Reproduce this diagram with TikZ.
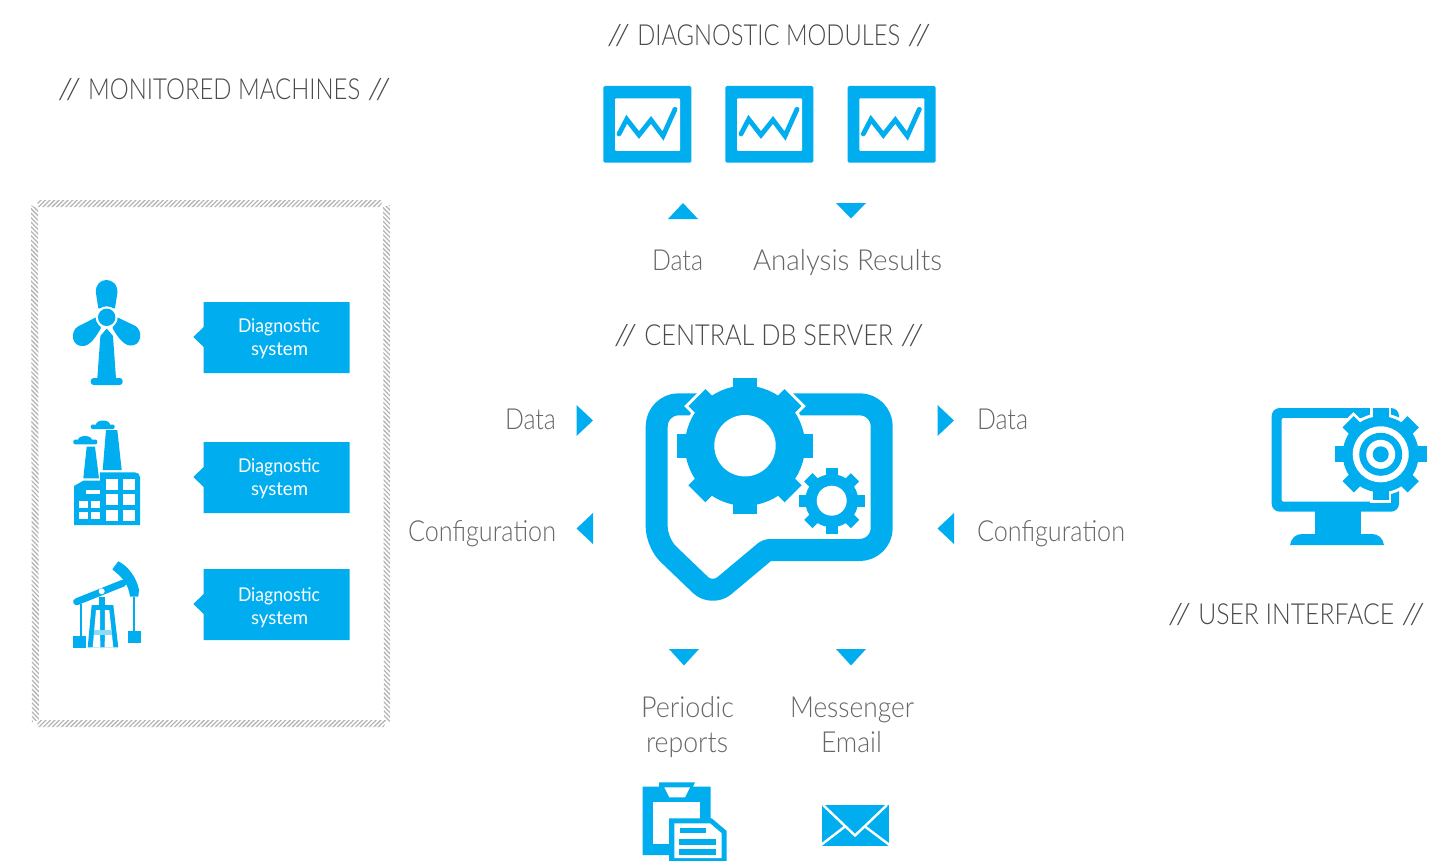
\documentclass[tikz,border=0pt]{standalone}
\usepackage{fontspec}
\usepackage{graphicx}
\usetikzlibrary{patterns.meta}
\setmainfont{Lato}[UprightFont=* Light,BoldFont=* Regular]
\definecolor{iconblue}{HTML}{00AEEF}
\definecolor{headgray}{HTML}{4A4A4A}
\definecolor{labgray}{HTML}{666666}
\definecolor{hatchgray}{HTML}{B4B4B4}
\newcommand\fitw[2]{\resizebox{#1pt}{\height}{#2}}
\newcommand\titl[2]{\hspace{-1.5pt}\fitw{23.5}{//}\hspace{7pt}\fitw{#1}{#2}\hspace{7pt}\fitw{23.5}{//}\hspace{-1.5pt}}
\newcommand\geartooth[6]{% cx cy rbody rtip toothw colour
  \fill[#6] (#1,#2) circle (#3);
  \foreach \ang in {0,45,...,315}{
    \fill[#6,shift={(#1,#2)},rotate=\ang] (-#5/2,0) -- (#5/2,0) -- (#5/2,#4) -- (-#5/2,#4) -- cycle;
  }
}
\newcommand\moduleicon[1]{%
  \begin{scope}[shift={(#1,0)}]
    \fill[iconblue,rounded corners=1.5pt] (603.3,86) rectangle (691.3,162.7);
    \fill[white,rounded corners=1pt] (615,98.3) rectangle (680,151);
    \draw[iconblue,line width=4.8pt,line cap=round,line join=miter]
      (619,134) -- (626.7,119.3) -- (639,135) -- (651,120) -- (663,136) -- (675,109.3);
  \end{scope}
}
\newcommand\diagbox[4]{%
  \fill[iconblue] (203.7,#1) -- (349.7,#1) -- (349.7,#1+71) -- (203.7,#1+71) -- (203.7,#1+45) -- (193.3,#1+35) -- (203.7,#1+25) -- cycle;
  \node[diagtxt] (#2) at (279,#1+30.5+#4) {\fitw{82}{Diagnostic}};
  \node[diagtxt] (#3) at (279.5,#1+53.5+#4) {\fitw{57}{system}};
}
\tikzset{
  head/.style={anchor=base,text=headgray,font=\fontsize{29}{29}\selectfont,inner sep=0pt},
  lab/.style={anchor=base,text=labgray,font=\fontsize{29}{29}\selectfont,inner sep=0pt},
  diagtxt/.style={anchor=base,text=white,font=\fontsize{19}{19}\selectfont\bfseries,inner sep=0pt},
  band/.style={pattern={Lines[angle=45,distance=3.2pt,line width=1.3pt]},pattern color=hatchgray},
  bandb/.style={pattern={Lines[angle=-45,distance=3.2pt,line width=1.3pt]},pattern color=hatchgray},
}
\begin{document}
\begin{tikzpicture}[x=1pt,y=-1pt]
\useasboundingbox (0,0) rectangle (1455,861);
% titles
\node[head] (tmach) at (225,100) {\titl{272}{MONITORED MACHINES}};
\node[head] (tmod) at (769.5,46) {\titl{263}{DIAGNOSTIC MODULES}};
\node[head] (tdb) at (769.5,345) {\titl{249}{CENTRAL DB SERVER}};
\node[head] (tui) at (1297,624) {\titl{196}{USER INTERFACE}};
% labels
\node[lab] (ldata1) at (677.5,270.5) {\fitw{51}{Data}};
\node[lab] (lres) at (847.5,270.5) {\fitw{189}{Analysis Results}};
\node[lab] (ldata2) at (530.5,429) {\fitw{51}{Data}};
\node[lab] (lconf1) at (482,541) {\fitw{148}{Configuration}};
\node[lab] (ldata3) at (1002.5,429) {\fitw{51}{Data}};
\node[lab] (lconf2) at (1051,541) {\fitw{148}{Configuration}};
\node[lab] (lper) at (687.5,717.5) {\fitw{93}{Periodic}};
\node[lab] (lrep) at (687,752) {\fitw{82}{reports}};
\node[lab] (lmes) at (852,717.5) {\fitw{124}{Messenger}};
\node[lab] (lmail) at (851.5,752) {\fitw{61}{Email}};
% module icons
\moduleicon{0}\moduleicon{122}\moduleicon{244.3}
% triangles
\fill[iconblue] (668,219) -- (683,203) -- (698,219) -- cycle;
\fill[iconblue] (836,203) -- (866,203) -- (851,218.5) -- cycle;
\fill[iconblue] (669,649) -- (699,649) -- (684,665.5) -- cycle;
\fill[iconblue] (836,649) -- (866,649) -- (851,665.5) -- cycle;
\fill[iconblue] (576.5,405) -- (593,420.5) -- (576.5,436) -- cycle;
\fill[iconblue] (593,513) -- (576.5,528.5) -- (593,544) -- cycle;
\fill[iconblue] (937.5,405) -- (954,420.5) -- (937.5,436) -- cycle;
\fill[iconblue] (954,513) -- (937.5,528.5) -- (954,544) -- cycle;
% hatched frame
\fill[band] (37,200) -- (383,200) -- (380,207) -- (38,207) -- cycle;
\fill[band] (38,720) -- (386,720) -- (384,727) -- (37,727) -- cycle;
\fill[bandb] (31,205) -- (38,209) -- (39,720) -- (32,722) -- cycle;
\fill[bandb] (383,207) -- (390,205) -- (390,722) -- (384,717) -- cycle;
% diagnostic boxes
\diagbox{302}{d1a}{d1b}{0}
\diagbox{442}{d2a}{d2b}{0}
\diagbox{569}{d3a}{d3b}{1.5}
% wind turbine
\fill[iconblue] (98.3,308.3) -- (96,293.3) .. controls (95,284) and (101,280) .. (106.5,280) .. controls (112,280) and (118,284) .. (117.3,293.3) -- (115,308.3) -- cycle;
\fill[iconblue] (96,317.3) -- (78,326.5) .. controls (70,331) and (71,347) .. (83.5,346) .. controls (90,345.5) and (96,337) .. (101,328) -- cycle;
\fill[iconblue] (117.3,317.3) -- (135.5,326) .. controls (143,330.5) and (142,346.5) .. (130,345.5) .. controls (123.5,345) and (117.5,337) .. (112.5,328) -- cycle;
\fill[iconblue] (106.7,328.5) -- (113,336) -- (116,378.5) -- (97.3,378.5) -- (100.4,336) -- cycle;
\fill[iconblue,rounded corners=3pt] (90.7,378) rectangle (122.7,385);
\fill[white] (106.7,317.3) circle (11);
\fill[iconblue] (106.7,317.3) circle (8.7);
% factory
\fill[iconblue] (106,430) -- (117.3,430) -- (121.7,470) -- (102.7,470) -- cycle;
\fill[iconblue] (86.7,446.7) -- (95,446.7) -- (99,478.3) -- (83.3,478.3) -- cycle;
\fill[iconblue,rounded corners=2pt] (90.7,424.5) rectangle (114.7,429);
\fill[iconblue] (103,424.5) ellipse (7 and 4);
\fill[iconblue,rounded corners=2pt] (73.3,439.5) rectangle (97.3,444.3);
\fill[iconblue] (85,440) ellipse (7 and 4);
\fill[iconblue] (74,525) -- (74,486) -- (83.3,480.7) -- (100,480.7) -- (100,472.3) -- (135,472.3) .. controls (138,472.3) and (140,474.5) .. (140,477.3) -- (140,525) -- cycle;
\foreach \wx in {106,123.3}{
  \foreach \wy in {479.3,494,510}{
    \fill[white] (\wx,\wy) rectangle ++(11.7,10.7);
  }
}
\foreach \wx in {79.3,91.3}{
  \foreach \wy in {500.7,511.7}{
    \fill[white] (\wx,\wy) rectangle ++(9,7.6);
  }
}
\fill[white] (85.7,489.5) rectangle (100,494);
% pump jack
\draw[iconblue,line width=7pt,line cap=round] (76.7,601.7) -- (122.7,583.3);
\fill[iconblue] (112.3,569.3) -- (118.3,561.3) .. controls (128,566) and (137,578) .. (139,590) -- (138.3,596.7) -- (130,596.7) .. controls (129,588) and (125,581) .. (120,576) -- cycle;
\fill[white] (101.7,591.3) circle (3);
\fill[iconblue] (98.7,597) rectangle (104.7,605);
\fill[iconblue] (91.7,605) -- (113.3,605) -- (118.3,647.3) -- (87.7,647.3) -- cycle;
\fill[white] (96,610) -- (100,610) -- (100.3,647.3) -- (92.7,647.3) -- cycle;
\fill[white] (105,610) -- (109.3,610) -- (113.3,647.3) -- (104.7,647.3) -- cycle;
\fill[iconblue!45] (94,630) rectangle (112,635);
\fill[iconblue] (79.9,604) rectangle (81.7,637);
\fill[iconblue] (73.3,636) rectangle (85.7,647.7);
\fill[iconblue] (133.2,596.7) rectangle (135,631.7);
\fill[iconblue] (128.3,630.7) rectangle (140.7,642.7);
% central server icon
\draw[iconblue,line width=22pt,line join=round]
  [rounded corners=22pt] (720,404.3) -- (881.7,404.3) -- (881.7,550)
  [rounded corners=2pt] -- (767,550)
  [rounded corners=16pt] -- (712,596) -- (656.7,543)
  [rounded corners=22pt] -- (656.7,404.3) -- (720,404.3);
\geartooth{745}{445.7}{63}{71}{30}{white}
\geartooth{745}{445.7}{60}{68}{24}{iconblue}
\fill[white] (745,445.7) circle (30.7);
\geartooth{831.7}{500.7}{26.5}{33}{11.7}{iconblue}
\fill[white] (831.7,500.7) circle (15);
% user interface icon
\fill[iconblue,rounded corners=8pt] (1271.7,408) rectangle (1399,511.7);
\fill[white,rounded corners=2pt] (1281.7,418) rectangle (1389,501.7);
\fill[iconblue] (1315,511) rectangle (1360.7,536);
\fill[iconblue] (1290,545) .. controls (1291,538) and (1296,534) .. (1302,534) -- (1372,534) .. controls (1378,534) and (1383,538) .. (1384,545) -- cycle;
\geartooth{1380.7}{454.3}{41}{49}{21}{white}
\geartooth{1380.7}{454.3}{38}{46}{16}{iconblue}
\fill[white] (1380.7,454.3) circle (28);
\fill[iconblue] (1380.7,454.3) circle (21.5);
\fill[white] (1380.7,454.3) circle (14.5);
\fill[iconblue] (1380.7,454.3) circle (8);
% clipboard
\fill[iconblue] (642.7,786.7) -- (659,786.7) -- (659,782.3) -- (695,782.3) -- (693,786.7) -- (710.7,786.7) -- (710.7,830) -- (669,855) -- (642.7,855) -- cycle;
\fill[white] (664.3,787.3) -- (690,787.3) -- (685,797.3) -- (669.3,797.3) -- cycle;
\fill[white] (653.3,802.3) rectangle (700,844);
\fill[iconblue] (669,861) -- (669,818.3) -- (711.7,818.3) -- (726.7,831) -- (726.7,861) -- cycle;
\fill[white] (674.3,858) -- (674.3,823.3) -- (710,823.3) -- (721.7,833.3) -- (721.7,858) -- cycle;
\fill[iconblue] (680,828.3) rectangle (706,833.3);
\fill[iconblue] (679,839) rectangle (716,845);
\fill[iconblue] (679,849) rectangle (716,855);
% envelope
\fill[iconblue] (821.7,805) rectangle (889,845.7);
\draw[white,line width=2.4pt] (823,805) -- (855,835.5) -- (887,805);
\draw[white,line width=2.4pt] (821,845) -- (845,826.5);
\draw[white,line width=2.4pt] (889.5,845) -- (865,826.5);
\end{tikzpicture}
\end{document}
